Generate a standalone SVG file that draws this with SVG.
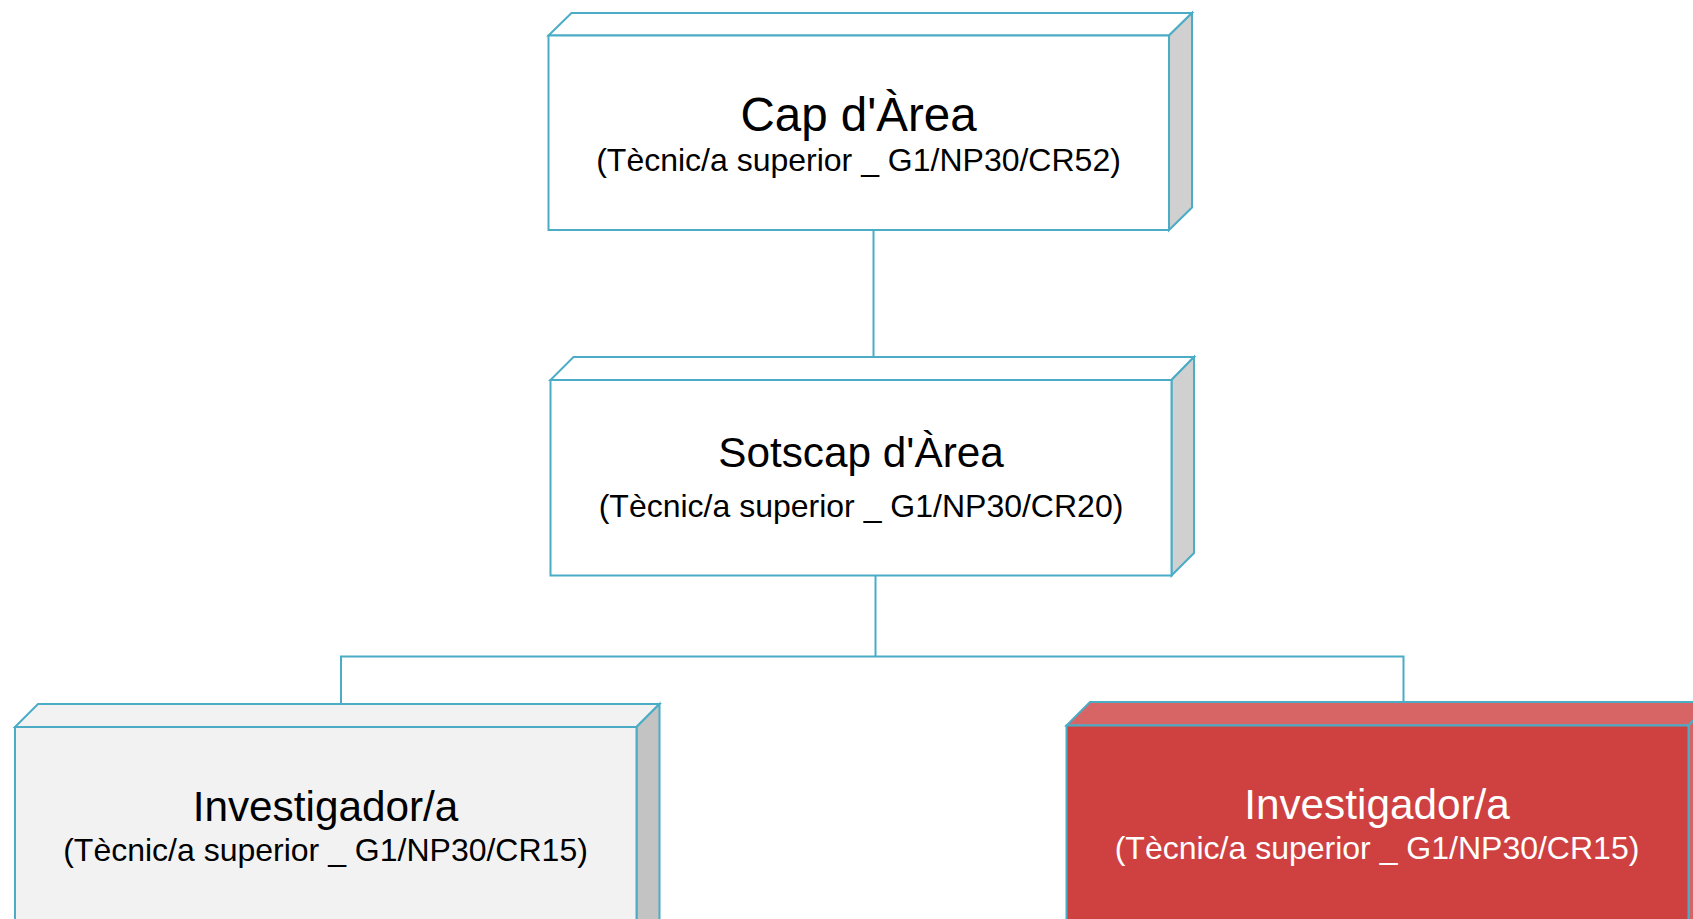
<svg xmlns="http://www.w3.org/2000/svg" width="1693" height="919" viewBox="0 0 1693 919">
<style>
.s{stroke:#4BACC6;stroke-width:2;stroke-linejoin:miter}
.w{fill:#FFFFFF}
.ws{fill:#D0D0D0}
.g{fill:#F2F2F2}
.gs{fill:#C3C3C3}
.r{fill:#CF4141}
.rt{fill:#D76565}
.t{font-family:"Liberation Sans",Arial,sans-serif;text-anchor:middle;fill:#000}
.tw{fill:#FFFFFF}
.c{fill:none;stroke:#4BACC6;stroke-width:2}
</style>
<rect width="1693" height="919" fill="#FFFFFF"/>
<g id="connectors">
<path class="c" d="M873.5,230 V356"/>
<path class="c" d="M875.5,575.5 V656.5 M341,704 V656.5 H1403.5 V702"/>
</g>
<g id="cap">
<path class="s w" d="M548.5,35.5 L571.5,13 H1192 L1169,35.5 Z"/>
<path class="s ws" d="M1169,35.5 L1192,13 V207.5 L1169,230 Z"/>
<rect class="s w" x="548.5" y="35.5" width="620.5" height="194.5"/>
<text class="t" x="858.5" y="131" font-size="47.5">Cap d'Àrea</text>
<text class="t" x="858.5" y="171" font-size="32">(Tècnic/a superior _ G1/NP30/CR52)</text>
</g>
<g id="sotscap">
<path class="s w" d="M550.5,380 L573.5,357 H1194 L1171.5,380 Z"/>
<path class="s ws" d="M1171.5,380 L1194,357 V553 L1171.5,575.5 Z"/>
<rect class="s w" x="550.5" y="380" width="621" height="195.5"/>
<text class="t" x="861" y="467" font-size="42.3">Sotscap d'Àrea</text>
<text class="t" x="861" y="516.5" font-size="32">(Tècnic/a superior _ G1/NP30/CR20)</text>
</g>
<g id="investigador1">
<path class="s g" d="M15,727 L38,704 H659.5 L636.5,727 Z"/>
<path class="s gs" d="M636.5,727 L659.5,704 V940 L636.5,963 Z"/>
<rect class="s g" x="15" y="727" width="621.5" height="240"/>
<text class="t" x="325.5" y="821" font-size="42.3">Investigador/a</text>
<text class="t" x="325.5" y="860.5" font-size="32">(Tècnic/a superior _ G1/NP30/CR15)</text>
</g>
<g id="investigador2">
<path class="s rt" d="M1066.5,725.5 L1090,702 H1712 L1688.5,725.5 Z"/>
<path class="s rt" d="M1688.5,725.5 L1712,702 V940 L1688.5,963 Z"/>
<rect class="s r" x="1066.5" y="725.5" width="622" height="240"/>
<text class="t tw" x="1377" y="819" font-size="42.3">Investigador/a</text>
<text class="t tw" x="1377" y="858.5" font-size="32">(Tècnic/a superior _ G1/NP30/CR15)</text>
</g>
</svg>
